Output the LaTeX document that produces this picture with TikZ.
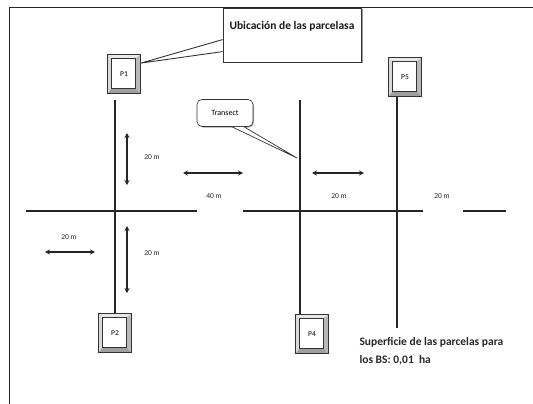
\documentclass[tikz,border=0pt]{standalone}
\usepackage{fontspec}
\setmainfont{Carlito}
\usetikzlibrary{arrows.meta,positioning,shadows}

\begin{document}
\begin{tikzpicture}[x=1pt, y=-1pt,
    transect/.style={line width=1.2pt, black!85},
    dimarrow/.style={{Stealth[length=5pt,width=5pt]}-{Stealth[length=5pt,width=5pt]},
                     line width=1.3pt, black!85},
    dimlabel/.style={font=\fontsize{7.5}{8}\selectfont, text=black!85, inner sep=1pt},
    parcela/.style={rectangle, draw=black!80, line width=0.8pt, fill=white,
                    minimum width=33pt, minimum height=39pt, inner sep=0pt,
                    font=\fontsize{7.5}{8}\selectfont,
                    path picture={
                      \fill[gray!18] (path picture bounding box.north west) -- (path picture bounding box.north east)
                        -- ([shift={(-5pt,-4pt)}]path picture bounding box.north east)
                        -- ([shift={(4pt,-4pt)}]path picture bounding box.north west) -- cycle;
                      \fill[gray!30] (path picture bounding box.north west) -- (path picture bounding box.south west)
                        -- ([shift={(4pt,5pt)}]path picture bounding box.south west)
                        -- ([shift={(4pt,-4pt)}]path picture bounding box.north west) -- cycle;
                      \fill[gray!55] (path picture bounding box.north east) -- (path picture bounding box.south east)
                        -- ([shift={(-5pt,5pt)}]path picture bounding box.south east)
                        -- ([shift={(-5pt,-4pt)}]path picture bounding box.north east) -- cycle;
                      \fill[gray!75] (path picture bounding box.south west) -- (path picture bounding box.south east)
                        -- ([shift={(-5pt,5pt)}]path picture bounding box.south east)
                        -- ([shift={(4pt,5pt)}]path picture bounding box.south west) -- cycle;
                      \draw[line width=0.6pt, black!80] ([shift={(4pt,-4pt)}]path picture bounding box.north west)
                        rectangle ([shift={(-5pt,5pt)}]path picture bounding box.south east);
                    }},
    callbox/.style={rectangle, draw=black!80, line width=0.8pt, fill=white,
                    minimum width=138pt, minimum height=54pt,
                    drop shadow={shadow xshift=1.5pt, shadow yshift=-1.5pt, fill=gray!80, opacity=1}},
    tagbox/.style={rectangle, rounded corners=5pt, draw=black!80, line width=0.6pt, fill=white,
                   minimum width=56pt, minimum height=27pt, font=\fontsize{8}{9}\selectfont,
                   drop shadow={shadow xshift=1pt, shadow yshift=-1pt, fill=gray!70, opacity=1}}
  ]
    \useasboundingbox (0,0) rectangle (533,404);

    % Frame
    \draw[line width=1pt, black!85] (9,404) -- (9,8) -- (533,8);

    % Plots
    \node[parcela] (p1) at (124,74) {P1};
    \node[parcela] (p5) at (405,77) {P5};
    \node[parcela] (p2) at (115,333) {P2};
    \node[parcela] (p4) at (312,334) {P4};

    % Transect lines
    \coordinate (t1) at (115,100);
    \coordinate (t2) at (300,100);
    \coordinate (t3) at (397,328);
    \draw[transect] (t1) -- (p2.north);
    \draw[transect] (t2) -- (t2 |- p4.north);
    \draw[transect] (t3 |- p5.south) -- (t3);

    \coordinate (h1a) at (26,211);  \coordinate (h1b) at (197,211);
    \coordinate (h2a) at (243,211); \coordinate (h2b) at (423,211);
    \coordinate (h3a) at (463,211); \coordinate (h3b) at (506,211);
    \draw[transect] (h1a) -- (h1b);
    \draw[transect] (h2a) -- (h2b);
    \draw[transect] (h3a) -- (h3b);

    % Distances
    \coordinate (a1) at (127,133); \coordinate (b1) at (127,185);
    \coordinate (a2) at (183,173); \coordinate (b2) at (243,173);
    \coordinate (a3) at (312,173); \coordinate (b3) at (364,173);
    \coordinate (a4) at (45,252);  \coordinate (b4) at (95,252);
    \coordinate (a5) at (127,226); \coordinate (b5) at (127,293);
    \draw[dimarrow] (a1) -- (b1);
    \draw[dimarrow] (a2) -- (b2);
    \draw[dimarrow] (a3) -- (b3);
    \draw[dimarrow] (a4) -- (b4);
    \draw[dimarrow] (a5) -- (b5);

    \node[dimlabel] (d1) at (152,157) {20 m};
    \node[dimlabel] (d2) at (214,196) {40 m};
    \node[dimlabel] (d3) at (339,196) {20 m};
    \node[dimlabel] (d4) at (442,196) {20 m};
    \node[dimlabel] (d5) at (69,237)  {20 m};
    \node[dimlabel] (d6) at (152,253) {20 m};

    % Callout: plots
    \node[callbox] (ubic) at (292,35) {};
    \node[font=\bfseries\fontsize{11.5}{12}\selectfont, text=black!90, below=10pt of ubic.north] (ubictxt)
      {Ubicación de las parcelasa};
    \coordinate (u1) at ([yshift=-32pt]ubic.north west);
    \coordinate (u2) at ([yshift=-44pt]ubic.north west);
    \coordinate (utip) at ([yshift=-9pt]p1.north east);
    \draw[line width=0.9pt, black!80, fill=white] (u1) -- (utip) -- (u2);

    % Callout: transect
    \node[tagbox] (trans) at (225,113) {Transect};
    \coordinate (v1) at ([xshift=7pt]trans.south);
    \coordinate (v2) at ([xshift=19pt]trans.south);
    \coordinate (vtip) at (297,158);
    \draw[line width=0.7pt, black!80, fill=white] (v1) -- (vtip) -- (v2);

    % Note
    \node[anchor=west, align=left, font=\bfseries\fontsize{11.5}{18}\selectfont, text=black!85] (surf) at (356,351)
      {Superficie de las parcelas para\\los BS: 0,01\ \ ha};
  \end{tikzpicture}
\end{document}
